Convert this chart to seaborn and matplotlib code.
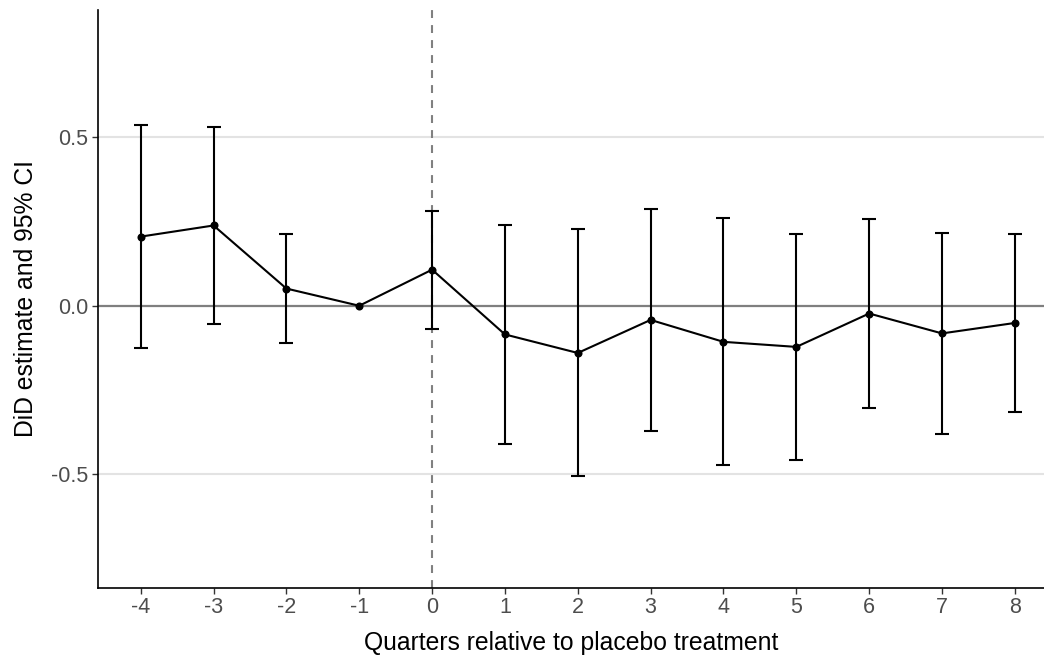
import numpy as np
import pandas as pd
import matplotlib
matplotlib.use("Agg")
import matplotlib.pyplot as plt
import seaborn as sns

# ------------------------------
# Event-study estimates
# ------------------------------
quarters = [-4, -3, -2, -1, 0, 1, 2, 3, 4, 5, 6, 7, 8]
estimate = [0.205, 0.238, 0.051, 0.0, 0.107, -0.085, -0.140, -0.042, -0.107, -0.122, -0.023, -0.082, -0.051]
ci_low = [-0.126, -0.054, -0.110, 0.0, -0.068, -0.410, -0.506, -0.371, -0.472, -0.456, -0.304, -0.381, -0.316]
ci_high = [0.537, 0.531, 0.213, 0.0, 0.282, 0.240, 0.229, 0.286, 0.259, 0.213, 0.257, 0.217, 0.214]

df = pd.DataFrame({"quarter": quarters, "est": estimate, "lo": ci_low, "hi": ci_high})

# ------------------------------
# Plot
# ------------------------------
sns.set_theme(style="white")
plt.rcParams['font.family'] = ['Liberation Sans', 'DejaVu Sans']

fig = plt.figure(figsize=(10.44, 6.56), dpi=100)
ax = fig.add_axes([0.0936, 0.1041, 0.9064, 0.8807])

# horizontal grid at +/-0.5, reference line at 0
for yv in [-0.5, 0.5]:
    ax.axhline(yv, color="#e3e3e3", lw=1.5, zorder=0)
ax.axhline(0, color="#7f7f7f", lw=1.6, zorder=1)
ax.axvline(0, color="#808080", lw=1.5, ls=(0, (3.8, 3.4)), zorder=1)

# error bars (the reference period -1 has none)
eb = df[df["quarter"] != -1]
ax.errorbar(eb["quarter"], eb["est"],
            yerr=[eb["est"] - eb["lo"], eb["hi"] - eb["est"]],
            fmt="none", ecolor="black", elinewidth=1.5, capsize=5, capthick=1.5, zorder=2)

sns.lineplot(data=df, x="quarter", y="est", color="black", lw=1.5,
             marker="o", markersize=5.8, markeredgewidth=0, ax=ax, zorder=3)

ax.set_xlim(-4.59, 8.40)
ax.set_ylim(-0.836, 0.877)
ax.set_xticks(quarters)
ax.set_xticklabels([str(q) for q in quarters])
ax.set_yticks([-0.5, 0.0, 0.5])
ax.set_yticklabels(["-0.5", "0.0", "0.5"])

ax.set_xlabel("Quarters relative to placebo treatment", fontsize=17.8, color="black", labelpad=9)
ax.set_ylabel("DiD estimate and 95% CI", fontsize=17.8, color="black", labelpad=9)
ax.tick_params(axis="both", labelsize=15.5, labelcolor="#4d4d4d", length=4, width=1,
               color="#333333", direction="out", bottom=True, left=True, pad=3)

for side in ["top", "right"]:
    ax.spines[side].set_visible(False)
for side in ["left", "bottom"]:
    ax.spines[side].set_color("black")
    ax.spines[side].set_linewidth(1.2)

fig.savefig("out.png", dpi=100, facecolor="white")
